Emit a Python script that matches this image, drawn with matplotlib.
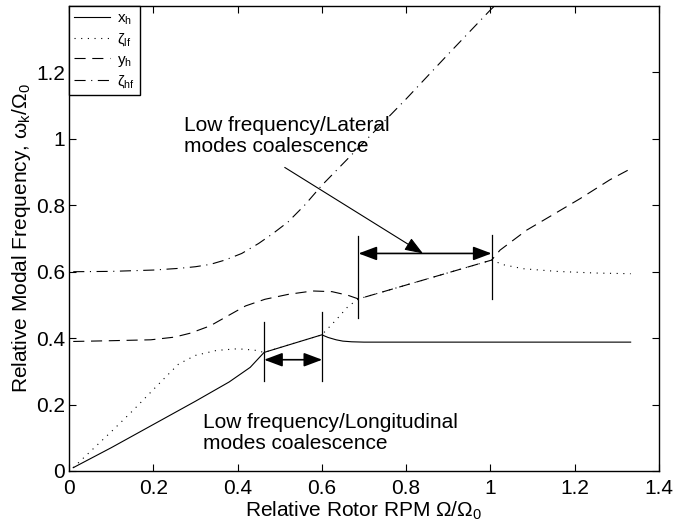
import matplotlib
matplotlib.use("Agg")
import matplotlib.pyplot as plt

plt.rcParams['font.family'] = ['Liberation Sans', 'DejaVu Sans']
plt.rcParams['mathtext.fontset'] = 'custom'
plt.rcParams['mathtext.rm'] = 'Liberation Sans'
plt.rcParams['mathtext.it'] = 'Liberation Sans:italic'

# rotor speed / modal frequency pairs for each mode
om_xh = [0.01, 0.1, 0.2, 0.3, 0.38, 0.43, 0.463, 0.6, 0.615, 0.634, 0.65, 0.671, 0.7, 0.8, 1.0, 1.2, 1.333]
xh = [0.01, 0.07, 0.14, 0.21, 0.268, 0.312, 0.357, 0.41, 0.402, 0.395, 0.391, 0.389, 0.388, 0.388, 0.388, 0.388, 0.388]

om_zlf = [0.01, 0.1, 0.15, 0.2, 0.227, 0.26, 0.3, 0.35, 0.4, 0.44, 0.463, 0.53, 0.6, 0.634, 0.662, 0.687,
          1.003, 1.031, 1.078, 1.157, 1.25, 1.333]
zlf = [0.01, 0.118, 0.18, 0.245, 0.28, 0.322, 0.348, 0.363, 0.368, 0.364, 0.357, 0.383, 0.41, 0.455, 0.495, 0.518,
       0.635, 0.621, 0.609, 0.601, 0.596, 0.594]

om_yh = [0.01, 0.09, 0.194, 0.25, 0.288, 0.335, 0.381, 0.419, 0.465, 0.521, 0.578, 0.624, 0.662, 0.687,
         1.003, 1.023, 1.086, 1.149, 1.213, 1.284, 1.333]
yh = [0.39, 0.392, 0.395, 0.403, 0.415, 0.437, 0.47, 0.497, 0.517, 0.532, 0.542, 0.54, 0.529, 0.518,
      0.635, 0.665, 0.725, 0.772, 0.82, 0.877, 0.91]

om_zhf = [0.01, 0.1, 0.2, 0.26, 0.3, 0.335, 0.37, 0.41, 0.45, 0.484, 0.52, 0.559, 0.6, 0.7, 0.8, 0.9, 1.0, 1.01]
zhf = [0.6, 0.601, 0.605, 0.61, 0.615, 0.622, 0.635, 0.655, 0.685, 0.715, 0.75, 0.8, 0.86, 0.99, 1.12, 1.255, 1.388, 1.40]

# coalescence markers: span ends, arrow height, bar tops, bar bottoms
long_span = (0.463, 0.601)
long_arrow_y = 0.335
long_bar_top = (0.45, 0.478)
long_bar_bot = (0.27, 0.27)

lat_span = (0.687, 1.003)
lat_arrow_y = 0.655
lat_bar_top = (0.707, 0.71)
lat_bar_bot = (0.46, 0.517)

xticks = [0, 0.2, 0.4, 0.6, 0.8, 1.0, 1.2, 1.4]
xticklabels = ['0', '0.2', '0.4', '0.6', '0.8', '1', '1.2', '1.4']
yticks = [0, 0.2, 0.4, 0.6, 0.8, 1.0, 1.2]
yticklabels = ['0', '0.2', '0.4', '0.6', '0.8', '1', '1.2']

fig = plt.figure(figsize=(6.78, 5.31), dpi=100)
ax = fig.add_axes([0.1018, 0.113, 0.870, 0.8757])

lw = 0.8
ax.plot(om_xh, xh, color='k', lw=lw, linestyle='-', label='x$_\\mathrm{h}$')
ax.plot(om_zlf, zlf, color='k', lw=lw, linestyle=(0, (1, 5)), label='ζ$_\\mathrm{lf}$')
ax.plot(om_yh, yh, color='k', lw=lw, linestyle=(0, (10, 6)), label='y$_\\mathrm{h}$')
ax.plot(om_zhf, zhf, color='k', lw=lw, linestyle=(0, (10, 5, 1, 5)), label='ζ$_\\mathrm{hf}$')

# vertical bars marking the coalescence ranges
for x, top, bot in zip(long_span, long_bar_top, long_bar_bot):
    ax.plot([x, x], [bot, top], color='k', lw=0.9)
for x, top, bot in zip(lat_span, lat_bar_top, lat_bar_bot):
    ax.plot([x, x], [bot, top], color='k', lw=0.9)

arrow_kw = dict(arrowstyle='<|-|>,head_length=0.8,head_width=0.3', color='k', lw=1.2,
                shrinkA=0, shrinkB=0, mutation_scale=14)
ax.annotate('', xy=(long_span[1], long_arrow_y), xytext=(long_span[0], long_arrow_y), arrowprops=arrow_kw)
ax.annotate('', xy=(lat_span[1], lat_arrow_y), xytext=(lat_span[0], lat_arrow_y), arrowprops=arrow_kw)

ax.annotate('', xy=(0.84, lat_arrow_y), xytext=(0.512, 0.914),
            arrowprops=dict(arrowstyle='-|>,head_length=0.8,head_width=0.3', color='k', lw=0.8,
                            shrinkA=0, shrinkB=0, mutation_scale=14))

ax.text(0.272, 1.008, 'Low frequency/Lateral\nmodes coalescence', fontsize=15,
        ha='left', va='center', linespacing=1.1)
ax.text(0.317, 0.114, 'Low frequency/Longitudinal\nmodes coalescence', fontsize=15,
        ha='left', va='center', linespacing=1.1)

ax.set_xlim(0, 1.4)
ax.set_ylim(0, 1.4)
ax.set_xticks(xticks)
ax.set_xticklabels(xticklabels)
ax.set_yticks(yticks)
ax.set_yticklabels(yticklabels)
ax.tick_params(direction='in', top=True, right=True, length=5, width=0.8, labelsize=15)
ax.tick_params(axis='x', pad=6)
ax.tick_params(axis='y', pad=3)
for s in ax.spines.values():
    s.set_linewidth(1.0)

ax.set_xlabel('Relative Rotor RPM Ω/Ω$_\\mathrm{0}$', fontsize=15, labelpad=1)
ax.set_ylabel('Relative Modal Frequency, ω$_\\mathrm{k}$/Ω$_\\mathrm{0}$', fontsize=15, labelpad=2)

leg = ax.legend(loc='upper left', bbox_to_anchor=(0, 1), borderaxespad=0, fontsize=11,
                fancybox=False, framealpha=1, edgecolor='k', handlelength=2.3,
                labelspacing=0.3, borderpad=0.35, handletextpad=0.5)
leg.get_frame().set_linewidth(1.0)

fig.savefig('out.png', dpi=100)
